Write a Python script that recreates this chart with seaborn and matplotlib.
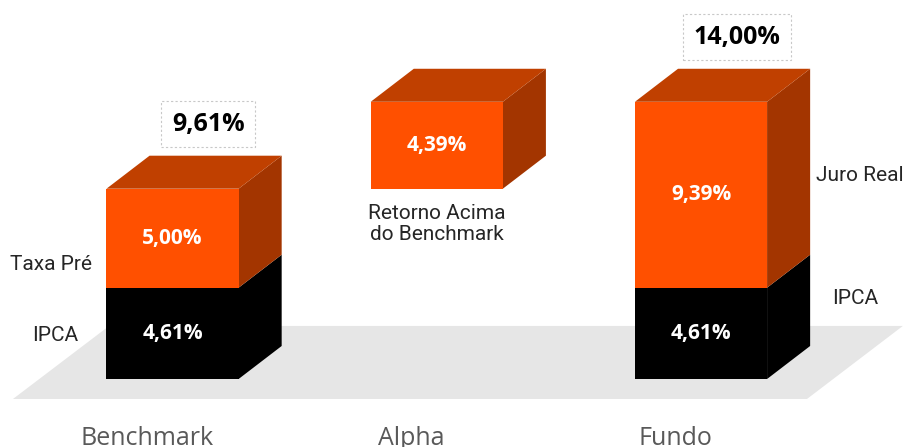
import matplotlib
matplotlib.use("Agg")
import matplotlib.pyplot as plt
from matplotlib.patches import Polygon
import seaborn as sns

# data
categories = ["Benchmark", "Alpha", "Fundo"]
ipca = [4.61, 0.0, 4.61]
upper = [5.00, 4.39, 9.39]
upper_base = [4.61, 9.61, 4.61]
totals = [9.61, None, 14.00]
value_labels_ipca = ["4,61%", None, "4,61%"]
value_labels_upper = ["5,00%", "4,39%", "9,39%"]
total_labels = ["9,61%", None, "14,00%"]

ORANGE = "#FF5000"
ORANGE_TOP = "#C04000"
ORANGE_SIDE = "#A33500"
BLACK = "#000000"
FLOOR = "#E6E6E6"

# 3D depth in data units
DX, DY = 0.163, 1.667

sns.set_theme(style="white")

fig = plt.figure(figsize=(9.05, 4.47), dpi=100)
ax = fig.add_axes([0, 0, 1, 1])

# front faces
sns.barplot(x=categories, y=upper, color=ORANGE, width=0.5, linewidth=0,
            saturation=1, ax=ax, zorder=3)
n_upper = len(ax.patches)
for p, base in zip(ax.patches[:n_upper], upper_base):
    p.set_y(base)
sns.barplot(x=categories, y=ipca, color=BLACK, width=0.5, linewidth=0,
            saturation=1, ax=ax, zorder=3)
upper_patches = ax.patches[:n_upper]

ax.set_xlim(-0.653, 2.772)
ax.set_ylim(-3.434, 19.14)
ax.axis("off")

# floor
floor = Polygon([(-0.604, -1.01), (2.401, -1.01), (2.764, 2.68), (-0.24, 2.68)],
                closed=True, facecolor=FLOOR, edgecolor="none", zorder=0)
ax.add_patch(floor)


def side_face(xr, b, t, color):
    ax.add_patch(Polygon([(xr, b), (xr + DX, b + DY), (xr + DX, t + DY), (xr, t)],
                         closed=True, facecolor=color, edgecolor="none", zorder=2))


def top_face(xl, xr, t, color):
    ax.add_patch(Polygon([(xl, t), (xl + DX, t + DY), (xr + DX, t + DY), (xr, t)],
                         closed=True, facecolor=color, edgecolor="none", zorder=2))


for i in range(len(categories)):
    up = upper_patches[i]
    xl = up.get_x()
    xr = xl + up.get_width()
    if ipca[i] > 0:
        side_face(xr, 0, ipca[i], BLACK)
    side_face(xr, upper_base[i], upper_base[i] + upper[i], ORANGE_SIDE)
    top_face(xl, xr, upper_base[i] + upper[i], ORANGE_TOP)

    # value labels
    cx = xl + up.get_width() / 2
    ax.text(cx, upper_base[i] + upper[i] / 2, value_labels_upper[i], color="white",
            fontsize=15, fontweight="bold", family="Open Sans",
            ha="center", va="center", zorder=5)
    if value_labels_ipca[i]:
        ax.text(cx, ipca[i] / 2, value_labels_ipca[i], color="white",
                fontsize=15, fontweight="bold", family="Open Sans",
                ha="center", va="center", zorder=5)
    if total_labels[i]:
        ax.text(cx + 0.135, totals[i] + DY + 1.6, total_labels[i], color="black",
                fontsize=18, fontweight="bold", family="Open Sans",
                ha="center", va="center", zorder=5,
                bbox=dict(boxstyle="square,pad=0.42", facecolor="white",
                          edgecolor="#C8C8C8", linestyle=(0, (2, 2)), linewidth=0.8))

    # category labels
    ax.text(i - 0.097, -3.33, categories[i], color="#595959", fontsize=18,
            family="Open Sans", ha="center", va="baseline")

# segment annotations
note_kw = dict(color="#262626", fontsize=15, family="Roboto", fontweight="normal",
               va="center", zorder=5)
ax.text(-0.46, 5.76, "Taxa Pré", ha="center", **note_kw)
ax.text(-0.445, 2.22, "IPCA", ha="center", **note_kw)
ax.text(2.602, 10.30, "Juro Real", ha="center", **note_kw)
ax.text(2.583, 4.09, "IPCA", ha="center", **note_kw)
ax.text(1.0, 7.83, "Retorno Acima\ndo Benchmark", ha="center", linespacing=1.1,
        **note_kw)

fig.savefig("out.png", dpi=100, facecolor="white")
